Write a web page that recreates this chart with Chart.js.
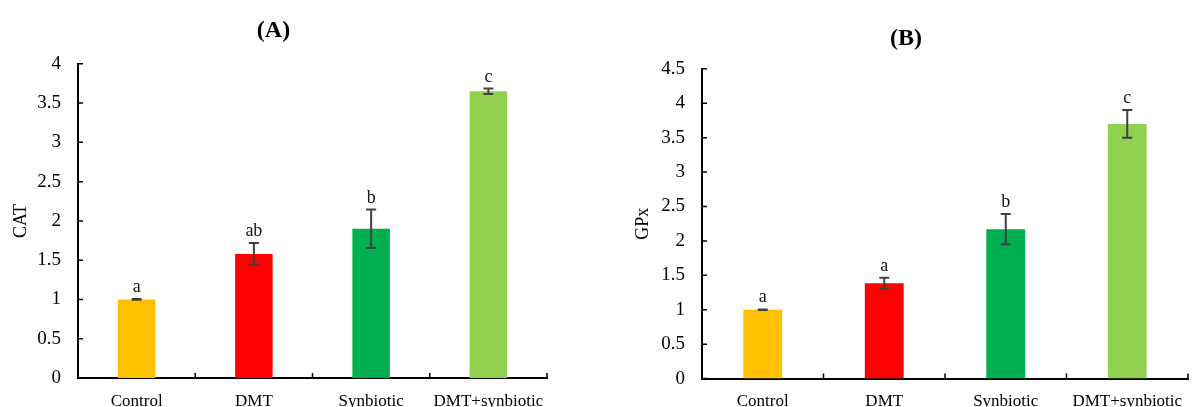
<!DOCTYPE html>
<html lang="en">
<head>
<meta charset="UTF-8">
<title>CAT and GPx</title>
<script src="https://cdn.jsdelivr.net/npm/chart.js"></script>
<style>
  body { margin: 0; background: #fff; }
  #wrap { position: relative; width: 1192px; height: 407px; overflow: hidden; }
  canvas { position: absolute; top: 0; }
  #chartA { left: 0; }
  #chartB { left: 624px; }
</style>
</head>
<body>
<div id="wrap">
  <canvas id="chartA" width="548" height="407"></canvas>
  <canvas id="chartB" width="568" height="407"></canvas>
</div>
<script>
  // data
  const groups = ['Control', 'DMT', 'Synbiotic', 'DMT+synbiotic'];
  const barColors = ['#FFC000', '#FF0000', '#00B050', '#92D050'];

  const catMeans = [1.00, 1.58, 1.90, 3.65];
  const catErrors = [0.005, 0.14, 0.245, 0.035];
  const catLetters = ['a', 'ab', 'b', 'c'];

  const gpxMeans = [1.00, 1.385, 2.17, 3.70];
  const gpxErrors = [0.005, 0.08, 0.22, 0.20];
  const gpxLetters = ['a', 'a', 'b', 'c'];

  Chart.defaults.font.family = '"Liberation Serif", "Times New Roman", serif';
  Chart.defaults.color = '#000';

  // error bars, significance letters and the inward tick marks
  const extras = {
    id: 'extras',
    afterDatasetsDraw(chart, args, opts) {
      const ctx = chart.ctx;
      const y = chart.scales.y;
      const meta = chart.getDatasetMeta(0);
      const values = chart.data.datasets[0].data;
      ctx.save();
      ctx.strokeStyle = '#404040';
      ctx.lineWidth = 2;
      meta.data.forEach((bar, i) => {
        const hi = y.getPixelForValue(values[i] + opts.errors[i]);
        const lo = y.getPixelForValue(values[i] - opts.errors[i]);
        ctx.beginPath();
        ctx.moveTo(bar.x, hi); ctx.lineTo(bar.x, lo);
        ctx.moveTo(bar.x - 5, hi); ctx.lineTo(bar.x + 5, hi);
        ctx.moveTo(bar.x - 5, lo); ctx.lineTo(bar.x + 5, lo);
        ctx.stroke();
        ctx.fillStyle = '#111';
        ctx.font = '18px "Liberation Serif", serif';
        ctx.textAlign = 'center';
        ctx.textBaseline = 'alphabetic';
        ctx.fillText(opts.letters[i], bar.x, hi - 7);
      });
      ctx.restore();
    },
    afterDraw(chart) {
      const {ctx, chartArea, scales: {x, y}} = chart;
      ctx.save();
      ctx.strokeStyle = '#000';
      ctx.lineWidth = 1.5;
      ctx.beginPath();
      y.ticks.forEach(t => {
        const py = y.getPixelForValue(t.value);
        ctx.moveTo(chartArea.left, py);
        ctx.lineTo(chartArea.left + 5, py);
      });
      const n = x.ticks.length;
      for (let i = 1; i <= n; i++) {
        const px = x.left + x.width * i / n;
        ctx.moveTo(px, chartArea.bottom);
        ctx.lineTo(px, chartArea.bottom - 5);
      }
      ctx.stroke();
      ctx.restore();
    }
  };

  function makeChart(id, cfg) {
    return new Chart(document.getElementById(id), {
      type: 'bar',
      data: {
        labels: groups,
        datasets: [{
          data: cfg.means,
          backgroundColor: barColors,
          borderWidth: 0,
          categoryPercentage: 1,
          barPercentage: 0.32
        }]
      },
      options: {
        responsive: false,
        animation: false,
        layout: { padding: { left: 0, right: cfg.padRight, top: 0, bottom: 0 } },
        scales: {
          x: {
            grid: { display: false, drawTicks: false },
            border: { display: true, color: '#000', width: 2 },
            ticks: { padding: 13, font: { size: 17 }, maxRotation: 0, autoSkip: false },
            afterFit: s => {
              s.height = cfg.xHeight;
              s.paddingLeft = 0;
              s.paddingRight = 0;
            }
          },
          y: {
            min: 0,
            max: cfg.yMax,
            grid: { display: false, drawTicks: false },
            border: { display: true, color: '#000', width: 2 },
            ticks: { stepSize: 0.5, padding: 17, font: { size: 19 }, callback: v => String(v) },
            title: { display: true, text: cfg.yTitle, font: { size: 18 }, padding: { top: cfg.yTitlePad, bottom: 0 } },
            afterFit: s => { s.width = 78; }
          }
        },
        plugins: {
          legend: { display: false },
          tooltip: { enabled: false },
          title: {
            display: true,
            text: cfg.title,
            font: { size: 24, weight: 'bold' },
            padding: cfg.titlePad
          },
          extras: { errors: cfg.errors, letters: cfg.letters }
        }
      },
      plugins: [extras]
    });
  }

  makeChart('chartA', {
    title: '(A)', yTitle: 'CAT', means: catMeans, errors: catErrors, letters: catLetters,
    yMax: 4, padRight: 1, xHeight: 29, yTitlePad: 10, titlePad: { top: 16, bottom: 19 }
  });

  makeChart('chartB', {
    title: '(B)', yTitle: 'GPx', means: gpxMeans, errors: gpxErrors, letters: gpxLetters,
    yMax: 4.5, padRight: 4, xHeight: 28, yTitlePad: 8, titlePad: { top: 24, bottom: 16 }
  });
</script>
</body>
</html>
